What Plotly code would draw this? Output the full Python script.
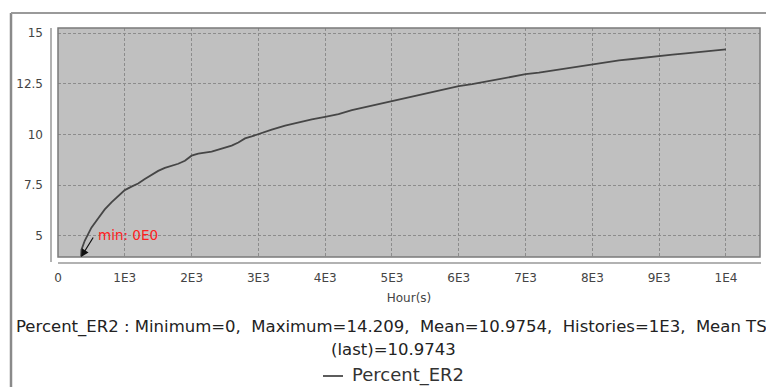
import plotly.graph_objects as go

hours = [300, 350, 400, 450, 500, 600, 700, 800, 900, 1000, 1100, 1200, 1300, 1400, 1500,
         1600, 1700, 1800, 1900, 2000, 2100, 2200, 2300, 2400, 2500, 2600, 2700, 2750,
         2800, 2900, 3000, 3200, 3400, 3600, 3800, 4000, 4200, 4400, 4600, 4800, 5000,
         5200, 5400, 5600, 5800, 6000, 6200, 6400, 6600, 6800, 7000, 7200, 7400, 7600,
         7800, 8000, 8200, 8400, 8600, 8800, 9000, 9200, 9400, 9600, 9800, 10000]
percent_er2 = [0.0, 4.3, 4.75, 5.1, 5.4, 5.85, 6.3, 6.65, 6.95, 7.25, 7.42, 7.58, 7.8, 8.02,
               8.2, 8.35, 8.45, 8.55, 8.7, 8.95, 9.05, 9.1, 9.15, 9.25, 9.35, 9.45, 9.6,
               9.7, 9.8, 9.9, 10.02, 10.23, 10.43, 10.6, 10.74, 10.87, 11.0, 11.2, 11.35,
               11.5, 11.62, 11.8, 11.95, 12.1, 12.25, 12.38, 12.48, 12.6, 12.72, 12.85,
               12.97, 13.05, 13.15, 13.25, 13.35, 13.47, 13.57, 13.65, 13.72, 13.8, 13.88,
               13.94, 14.0, 14.07, 14.13, 14.2]
x_tick_vals = [0, 1000, 2000, 3000, 4000, 5000, 6000, 7000, 8000, 9000, 10000]
x_tick_text = ["0", "1E3", "2E3", "3E3", "4E3", "5E3", "6E3", "7E3", "8E3", "9E3", "1E4"]
y_tick_vals = [5, 7.5, 10, 12.5, 15]
y_tick_text = ["5", "7.5", "10", "12.5", "15"]
series_name = "Percent_ER2"
stats_line1 = "Percent_ER2 : Minimum=0,&nbsp; Maximum=14.209,&nbsp; Mean=10.9754,&nbsp; Histories=1E3,&nbsp; Mean TS"
stats_line2 = "(last)=10.9743"

W, H = 766, 387
L, R, T, B = 58, 6, 28, 130
pw, ph = W - L - R, H - T - B
y_lo, y_hi = 3.95, 15.25
x_lo, x_hi = 0, 10510


def px(xp):
    return (xp - L) / pw


def py(yp):
    return (H - B - yp) / ph


fig = go.Figure()
fig.add_trace(go.Scatter(x=hours, y=percent_er2, mode="lines", name=series_name,
                         line=dict(color="#464646", width=1.8), showlegend=False))

# where the curve crosses the bottom of the visible range (min marker)
i = percent_er2.index(min(percent_er2))
x0, x1 = hours[i], hours[i + 1]
y0, y1 = percent_er2[i], percent_er2[i + 1]
x_cross = x0 + (y_lo - y0) / (y1 - y0) * (x1 - x0)

font = "DejaVu Sans"
gridc = "#8c8c8c"
fig.update_layout(
    width=W, height=H, margin=dict(l=L, r=R, t=T, b=B),
    paper_bgcolor="white", plot_bgcolor="#c0c0c0",
    font=dict(family=font, size=12, color="#444444"),
    xaxis=dict(range=[x_lo, x_hi], tickvals=x_tick_vals, ticktext=x_tick_text,
               showgrid=True, gridcolor=gridc, griddash="3px,2px", gridwidth=1,
               zeroline=False, showline=False, ticks="", ticklabelstandoff=12,
               tickfont=dict(size=12, color="#444444"),
               title=dict(text="Hour(s)", font=dict(size=12, color="#444444"), standoff=9)),
    yaxis=dict(range=[y_lo, y_hi], tickvals=y_tick_vals, ticktext=y_tick_text,
               showgrid=True, gridcolor=gridc, griddash="3px,2px", gridwidth=1,
               zeroline=False, showline=False, ticks="", ticklabelstandoff=14,
               tickfont=dict(size=12, color="#444444")),
    shapes=[
        # plot area border
        dict(type="rect", xref="paper", yref="paper", x0=0, x1=1, y0=0, y1=1,
             line=dict(color="#7a7a7a", width=1.5)),
        # offset axis lines
        dict(type="line", xref="paper", yref="paper", x0=px(51), x1=px(51), y0=py(262), y1=py(28),
             line=dict(color="#999999", width=1.5)),
        dict(type="line", xref="paper", yref="paper", x0=px(58), x1=px(761), y0=py(263), y1=py(263),
             line=dict(color="#999999", width=1.5)),
        # outer panel frame
        dict(type="line", xref="paper", yref="paper", x0=px(11), x1=px(11), y0=py(13), y1=py(387),
             line=dict(color="#8a8a8a", width=2.5)),
        dict(type="line", xref="paper", yref="paper", x0=px(11), x1=px(766), y0=py(13), y1=py(13),
             line=dict(color="#9a9a9a", width=2)),
        # legend line sample
        dict(type="line", xref="paper", yref="paper", x0=px(323), x1=px(343), y0=py(376), y1=py(376),
             line=dict(color="#333333", width=1.6)),
    ],
    annotations=[
        dict(x=x_cross, y=y_lo, xref="x", yref="y", text="", showarrow=True,
             ax=13, ay=-21, arrowhead=2, arrowsize=1.3, arrowwidth=1.2, arrowcolor="#111111",
             standoff=0),
        dict(x=px(96), y=py(235), xref="paper", yref="paper", xanchor="left", yanchor="middle",
             text="min: 0E0", showarrow=False,
             font=dict(size=13.5, color="#ff2020", family=font)),
        dict(x=px(14), y=py(327), xref="paper", yref="paper", xanchor="left", yanchor="middle",
             text=stats_line1, showarrow=False,
             font=dict(size=16.5, color="#222222", family=font)),
        dict(x=px(393), y=py(349), xref="paper", yref="paper", xanchor="center", yanchor="middle",
             text=stats_line2, showarrow=False,
             font=dict(size=16.5, color="#222222", family=font)),
        dict(x=px(350), y=py(375), xref="paper", yref="paper", xanchor="left", yanchor="middle",
             text=series_name, showarrow=False,
             font=dict(size=18, color="#333333", family=font)),
    ],
)

fig.write_html("out.html", config={"displayModeBar": False},
               post_script="document.body.style.margin='0';")
